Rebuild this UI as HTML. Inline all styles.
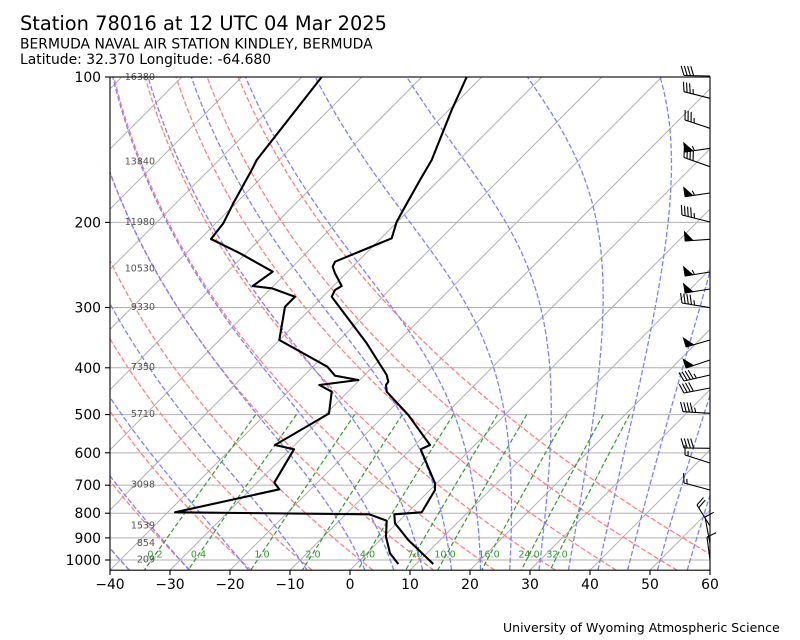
<!DOCTYPE html>
<html><head><meta charset="utf-8">
<style>
html,body{margin:0;padding:0;background:#fff;}
svg{display:block;}
text{font-family:"DejaVu Sans","Liberation Sans",sans-serif;}
</style></head>
<body>
<svg id="s" width="800" height="640" viewBox="0 0 800 640" xmlns="http://www.w3.org/2000/svg">
<defs><clipPath id="c"><rect x="110" y="77" width="600" height="493.2"/></clipPath></defs>
<rect width="800" height="640" fill="#fff"/>
<g id="bg" clip-path="url(#c)"></g>

<!-- titles -->
<text x="20" y="30" font-size="19.4" fill="#000">Station 78016 at 12 UTC 04 Mar 2025</text>
<text x="20" y="48.5" font-size="13.9" fill="#000">BERMUDA NAVAL AIR STATION KINDLEY, BERMUDA</text>
<text x="20" y="64" font-size="13.9" fill="#000">Latitude: 32.370 Longitude: -64.680</text>

<!-- height labels -->
<g font-size="9.5" fill="#555" text-anchor="end">
<text x="155" y="80">16380</text>
<text x="155" y="164.5">13840</text>
<text x="155" y="224.8">11980</text>
<text x="155" y="271.6">10530</text>
<text x="155" y="309.8">9330</text>
<text x="155" y="370.2">7350</text>
<text x="155" y="417">5710</text>
<text x="155" y="487.6">3098</text>
<text x="155" y="528.3">1539</text>
<text x="155" y="546">854</text>
<text x="155" y="562.3">209</text>
</g>

<!-- mixing ratio labels -->
<g font-size="9.6" fill="rgb(51,153,51)" text-anchor="middle">
<text x="155" y="557.5">0.2</text>
<text x="198.5" y="557.5">0.4</text>
<text x="262" y="557.5">1.0</text>
<text x="313" y="557.5">2.0</text>
<text x="367.5" y="557.5">4.0</text>
<text x="415" y="557.5">7.0</text>
<text x="445" y="557.5">10.0</text>
<text x="489" y="557.5">16.0</text>
<text x="529" y="557.5">24.0</text>
<text x="557" y="557.5">32.0</text>
</g>

<!-- profiles -->
<g clip-path="url(#c)" fill="none" stroke="#000" stroke-width="2.1" stroke-linejoin="round" stroke-linecap="butt">
<polyline points="466.7,77 451.7,110 441.7,135 431.7,160 420,180 405,206.7 396.7,221.7 391.7,238.3 335,261.7 332.7,266.7 335,273.3 341.7,286 335,290 331.7,296.7 366.7,343.3 386.7,375 388.3,381.7 386,385 386.7,391.7 408.3,415 430,445 420.7,449.3 435,483.3 435,490 421.7,512.3 394.3,514.3 395,523.3 408.3,540 433.3,564"/>
<polyline points="321.7,77 256.7,160 251.7,170 233.3,203.3 223.3,223.3 211,239 240,253.3 272.7,271.7 252.7,286 271.7,288.3 295,296.7 285,306.7 279.3,340 327.3,366.7 335,375.7 358.3,380 319.3,385 331.7,391.7 329,413.5 275,445 294,449.3 274.3,482.7 279.3,489.3 175,512.3 369.3,514.3 386.7,520.7 386,536.7 390,553.3 398.3,564"/>
</g>

<!-- frame -->
<rect x="110" y="77" width="600" height="493.2" fill="none" stroke="#000" stroke-width="1.1"/>

<!-- y ticks -->
<g stroke="#000" stroke-width="1.1">
<line x1="105" y1="77" x2="110" y2="77"/>
<line x1="105" y1="222.4" x2="110" y2="222.4"/>
<line x1="105" y1="307.5" x2="110" y2="307.5"/>
<line x1="105" y1="367.8" x2="110" y2="367.8"/>
<line x1="105" y1="414.6" x2="110" y2="414.6"/>
<line x1="105" y1="452.8" x2="110" y2="452.8"/>
<line x1="105" y1="485.2" x2="110" y2="485.2"/>
<line x1="105" y1="513.2" x2="110" y2="513.2"/>
<line x1="105" y1="537.9" x2="110" y2="537.9"/>
<line x1="105" y1="560" x2="110" y2="560"/>
</g>
<g font-size="13.9" fill="#000" text-anchor="end">
<text x="101" y="82">100</text>
<text x="101" y="227.4">200</text>
<text x="101" y="312.5">300</text>
<text x="101" y="372.8">400</text>
<text x="101" y="419.6">500</text>
<text x="101" y="457.8">600</text>
<text x="101" y="490.2">700</text>
<text x="101" y="518.2">800</text>
<text x="101" y="542.9">900</text>
<text x="101" y="565">1000</text>
</g>

<!-- x ticks -->
<g stroke="#000" stroke-width="1.1">
<line x1="110" y1="570" x2="110" y2="575"/>
<line x1="170" y1="570" x2="170" y2="575"/>
<line x1="230" y1="570" x2="230" y2="575"/>
<line x1="290" y1="570" x2="290" y2="575"/>
<line x1="350" y1="570" x2="350" y2="575"/>
<line x1="410" y1="570" x2="410" y2="575"/>
<line x1="470" y1="570" x2="470" y2="575"/>
<line x1="530" y1="570" x2="530" y2="575"/>
<line x1="590" y1="570" x2="590" y2="575"/>
<line x1="650" y1="570" x2="650" y2="575"/>
<line x1="710" y1="570" x2="710" y2="575"/>
</g>
<g font-size="13.9" fill="#000" text-anchor="middle">
<text x="110" y="589">−40</text>
<text x="170" y="589">−30</text>
<text x="230" y="589">−20</text>
<text x="290" y="589">−10</text>
<text x="350" y="589">0</text>
<text x="410" y="589">10</text>
<text x="470" y="589">20</text>
<text x="530" y="589">30</text>
<text x="590" y="589">40</text>
<text x="650" y="589">50</text>
<text x="710" y="589">60</text>
</g>

<g id="barbs"></g>

<text x="503" y="632" font-size="12.5" fill="#000">University of Wyoming Atmospheric Science</text>
</svg>
<script>
(function(){
var NS="http://www.w3.org/2000/svg";
var K=483/Math.LN10;
function Y(p){return 560+K*Math.log(p/1000);}
var YB=Y(1050);
function X(T,p){return 110+6*(T+40)+0.997*(YB-Y(p));}
var bg=document.getElementById('bg');
function path(pts,stroke,w,dash,parent){
  var e=document.createElementNS(NS,'path');var d='';
  for(var i=0;i<pts.length;i++){d+=(i?'L':'M')+pts[i][0].toFixed(2)+' '+pts[i][1].toFixed(2);}
  e.setAttribute('d',d);e.setAttribute('fill','none');e.setAttribute('stroke',stroke);
  e.setAttribute('stroke-width',w);if(dash)e.setAttribute('stroke-dasharray',dash);
  (parent||bg).appendChild(e);return e;
}
// horizontal grid
[100,200,300,400,500,600,700,800,900,1000].forEach(function(p){path([[110,Y(p)],[710,Y(p)]],'#b0b0b0',1);});
// isotherms
for(var T=-150;T<=60;T+=10){path([[X(T,1050),YB],[X(T,100),Y(100)]],'#b0b0b0',1);}
var ps=[];for(var p=1050;p>=100;p-=5)ps.push(p);
// dry adiabats
for(var t0=-40;t0<=60;t0+=10){
  var th=t0+273.15;
  path(ps.map(function(p){return [X(th*Math.pow(p/1000,0.28571)-273.15,p),Y(p)];}),'#ff8080',1.3,'5.1,2.3');
}
// moist adiabats
var Rd=287.04749,Lv=2.50084e6,Cp=1004.6662,eps=0.6219569;
function es(Tk){var t=Tk-273.15;return 6.112*Math.exp(17.67*t/(t+243.5));}
function f(p,T){var e=es(T);var rs=eps*e/(p-e);return ((Rd*T+Lv*rs)/(Cp+Lv*Lv*rs*eps/(Rd*T*T)))/p;}
function step(p,T,h){var k1=f(p,T),k2=f(p+h/2,T+h/2*k1),k3=f(p+h/2,T+h/2*k2),k4=f(p+h,T+h*k3);return T+h/6*(k1+2*k2+2*k3+k4);}
var mt=[-40,-30,-20,-10];for(var t=0;t<=60;t+=5)mt.push(t);
mt.forEach(function(t0){
  var res={};var T=t0+273.15;res[1000]=T;var p=1000;
  while(p>100){T=step(p,T,-1);p-=1;if(p%5===0)res[p]=T;}
  T=t0+273.15;p=1000;
  while(p<1050){T=step(p,T,1);p+=1;if(p%5===0)res[p]=T;}
  var pts=[];ps.forEach(function(pp){if(res[pp]!==undefined)pts.push([X(res[pp]-273.15,pp),Y(pp)]);});
  path(pts,'#8080ff',1.3,'5.1,2.3');
});
// mixing ratio lines
[0.0002,0.0004,0.001,0.002,0.004,0.007,0.010,0.016,0.024,0.032].forEach(function(w){
  var pts=[];
  for(var p=500;p<=1050;p+=10){var e=w*p/(eps+w);var l=Math.log(e/6.112);var td=243.5*l/(17.67-l);pts.push([X(td,p),Y(p)]);}
  path(pts,'rgb(51,153,51)',1.2,'4.5,2.5');
});
// barbs
var bg2=document.getElementById('barbs');
function line(x1,y1,x2,y2){path([[x1,y1],[x2,y2]],'#000',1.1,null,bg2);}
function barb(y0,tx,ty,items,bx){
  bx=bx||710;
  var L=Math.hypot(tx-bx,ty-y0);var ux=(tx-bx)/L,uy=(ty-y0)/L;var nx=-uy,ny=ux;
  line(bx,y0,tx,ty);
  var pos=0,h=9.5,w=8,sp=3.2;
  if(items==='H')pos=sp;
  for(var i=0;i<items.length;i++){
    var c=items[i];var px=tx-pos*ux,py=ty-pos*uy;
    if(c==='F'){
      var e=document.createElementNS(NS,'polygon');
      e.setAttribute('points',px+','+py+' '+(px+h*nx)+','+(py+h*ny)+' '+(px-w*ux)+','+(py-w*uy));
      e.setAttribute('fill','#000');e.setAttribute('stroke','#000');e.setAttribute('stroke-width','0.8');
      bg2.appendChild(e);pos+=w+sp*0.5;
    }else if(c==='B'){
      line(px,py,px+h*nx+3*ux,py+h*ny+3*uy);pos+=sp;
    }else{
      line(px,py,px+h*0.5*nx+1.5*ux,py+h*0.5*ny+1.5*uy);pos+=sp;
    }
  }
}
barb(76,684,75.5,'BBBB');
barb(98.3,684,91.7,'BBBH');
barb(128.3,685,120,'BBBH');
barb(148.3,685,152,'FH');
barb(166.7,684,157.5,'BBBB');
barb(193,685,196.7,'FH');
barb(222,682,215,'BBBBH');
barb(239.3,685,241,'F');
barb(272,685,276,'FH');
barb(289,685,293,'F');
barb(307.7,682,303,'BBBBH');
barb(340,686,347,'F');
barb(360,686,368,'F');
barb(375,684,381,'BBBBH');
barb(388,684,393,'BBBB');
barb(413.3,683,411.7,'BBBBH');
barb(448.3,684,448,'BBBB');
barb(463,685,455,'BH');
barb(490,684,483,'BH');
barb(526,697,505,'BB');
barb(543.6,705,517,'B');
barb(560,707,537,'B');
})();
</script>
</body></html>
